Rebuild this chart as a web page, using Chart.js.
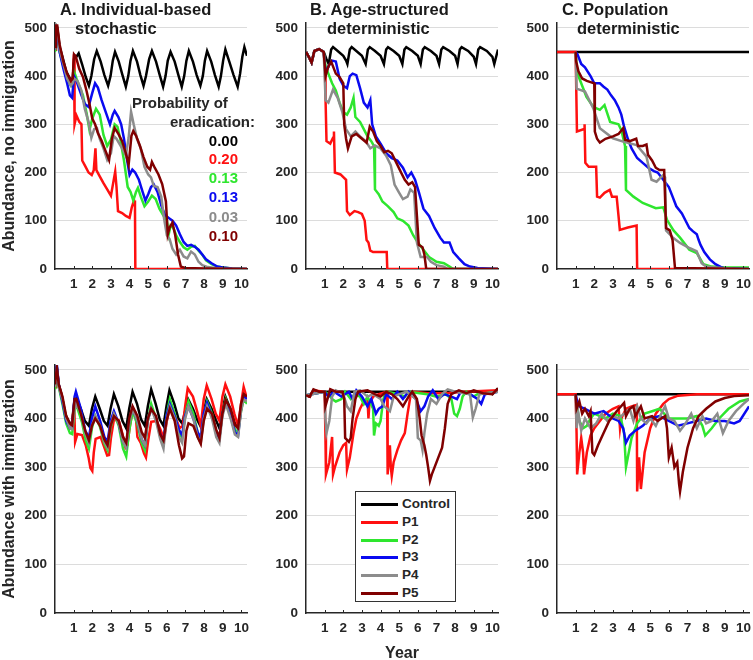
<!DOCTYPE html>
<html>
<head>
<meta charset="utf-8">
<script src="https://cdn.jsdelivr.net/npm/chart.js@4.4.0/dist/chart.umd.min.js"></script>
<style>
  body { margin: 0; background: #fff; }
  #fig { position: relative; width: 753px; height: 660px; overflow: hidden;
         font-family: 'Liberation Sans', Arial, sans-serif; font-weight: bold; color: #262626; }
  canvas { position: absolute; }
  .t { position: absolute; font-size: 16.5px; line-height: 19px; white-space: nowrap; color: #1a1a1a; }
  .pr { position: absolute; font-size: 15px; line-height: 18px; white-space: nowrap; }
  .num { position: absolute; right: 515px; font-size: 15px; line-height: 18px; }
  #legend { position: absolute; left: 355px; top: 491px; width: 99px; height: 109px;
            border: 1px solid #333; background: #fff; }
  .row { position: absolute; left: 0; height: 18px; width: 99px; font-size: 13.5px; line-height: 18px; }
  .row i { position: absolute; left: 5px; top: 8px; width: 37px; height: 3px; }
  .row span { position: absolute; left: 46px; top: 0; }
</style>
</head>
<body>
<div id="fig">
  <canvas id="tA"></canvas><canvas id="tB"></canvas><canvas id="tC"></canvas>
  <canvas id="bA"></canvas><canvas id="bB"></canvas><canvas id="bC"></canvas>

  <div class="t" style="left:60px;top:0px">A. Individual-based</div>
  <div class="t" style="left:75px;top:19px">stochastic</div>
  <div class="t" style="left:310px;top:0px">B. Age-structured</div>
  <div class="t" style="left:327px;top:19px">deterministic</div>
  <div class="t" style="left:562px;top:0px">C. Population</div>
  <div class="t" style="left:577px;top:19px">deterministic</div>

  <div class="pr" style="left:132px;top:94px">Probability of</div>
  <div class="pr" style="left:170px;top:113px">eradication:</div>
  <div id="probs"></div>

  <div id="legend"></div>
</div>

<script>
// axis ticks and labels
const xTicks = [1, 2, 3, 4, 5, 6, 7, 8, 9, 10];
const yTicks = [0, 100, 200, 300, 400, 500];
const seriesNames = ['Control', 'P1', 'P2', 'P3', 'P4', 'P5'];
const eradProb = ['0.00', '0.20', '0.13', '0.13', '0.03', '0.10'];
const seriesColors = ['#000000', '#ff1010', '#2ee62e', '#0a0af0', '#8c8c8c', '#800000'];

// ---- A. individual-based, no immigration: [year, abundance]
const topA_ctrl = [[0,455],[0.05,500],[0.12,500],[0.25,460],[0.4,440],[0.6,410],[0.8,395],[0.95,392],[1.02,435],[1.15,440],[1.27,447],[1.45,425],[1.65,398],[1.82,380],[1.95,400],[2.1,435],[2.24,452],[2.45,430],[2.65,402],[2.85,380],[2.98,400],[3.1,432],[3.22,450],[3.42,430],[3.62,402],[3.8,378],[3.93,400],[4.05,432],[4.18,452],[4.4,430],[4.58,402],[4.75,380],[4.88,400],[5.05,435],[5.2,452],[5.42,430],[5.62,402],[5.8,378],[5.93,400],[6.05,432],[6.2,450],[6.42,430],[6.62,402],[6.8,378],[6.93,400],[7.05,432],[7.18,452],[7.4,430],[7.6,402],[7.8,380],[7.93,400],[8.04,432],[8.16,452],[8.38,430],[8.58,402],[8.78,378],[8.9,400],[9.02,432],[9.14,455],[9.35,430],[9.58,402],[9.8,378],[9.93,405],[10.05,440],[10.16,460],[10.3,442]];
const topA_p1 = [[0,455],[0.05,495],[0.12,495],[0.25,455],[0.4,430],[0.6,400],[0.8,385],[0.95,385],[1.02,445],[1.05,300],[1.15,318],[1.3,305],[1.42,300],[1.46,225],[1.6,215],[1.8,200],[1.97,195],[2.08,205],[2.17,250],[2.22,205],[2.4,192],[2.6,178],[2.8,165],[3.0,152],[3.12,178],[3.23,202],[3.3,170],[3.38,120],[3.6,116],[3.8,110],[4.0,106],[4.12,128],[4.24,142],[4.29,130],[4.31,0],[10.3,0]];
const topA_p2 = [[0,450],[0.06,490],[0.12,485],[0.25,450],[0.45,420],[0.65,395],[0.85,380],[0.95,378],[1.02,410],[1.15,395],[1.3,380],[1.5,360],[1.7,322],[1.85,288],[2.0,312],[2.2,332],[2.4,320],[2.6,278],[2.8,255],[3.0,268],[3.2,300],[3.35,295],[3.5,270],[3.7,225],[3.9,170],[4.05,160],[4.2,142],[4.35,160],[4.45,168],[4.6,150],[4.8,130],[5.0,140],[5.2,152],[5.4,145],[5.6,125],[5.8,112],[6.0,100],[6.1,72],[6.2,90],[6.35,85],[6.5,70],[6.7,56],[6.9,45],[7.1,40],[7.3,46],[7.5,48],[7.7,38],[7.9,30],[8.1,18],[8.4,10],[8.7,5],[9.0,3],[9.5,1],[10.3,0]];
const topA_p3 = [[0,455],[0.06,495],[0.12,490],[0.25,450],[0.45,415],[0.65,385],[0.8,360],[0.92,355],[1.02,400],[1.15,390],[1.4,362],[1.6,342],[1.8,336],[2.0,365],[2.15,385],[2.3,376],[2.5,350],[2.75,322],[2.95,300],[3.1,320],[3.2,328],[3.4,315],[3.55,300],[3.7,270],[3.85,230],[4.0,195],[4.15,206],[4.3,200],[4.5,185],[4.7,160],[4.85,142],[5.0,155],[5.15,170],[5.3,175],[5.5,160],[5.7,132],[5.9,112],[6.1,106],[6.3,100],[6.5,90],[6.7,72],[6.9,56],[7.1,48],[7.3,50],[7.5,46],[7.7,40],[7.9,30],[8.1,20],[8.4,12],[8.7,5],[9.0,3],[9.5,1],[10.3,0]];
const topA_p4 = [[0,455],[0.06,505],[0.12,498],[0.25,455],[0.45,425],[0.65,395],[0.85,380],[0.95,385],[1.02,395],[1.2,390],[1.4,372],[1.6,332],[1.8,305],[1.95,272],[2.1,290],[2.25,292],[2.4,270],[2.6,250],[2.8,226],[3.0,240],[3.15,276],[3.3,270],[3.45,260],[3.6,250],[3.8,235],[3.95,272],[4.08,326],[4.22,300],[4.4,270],[4.6,250],[4.8,212],[5.0,196],[5.15,190],[5.3,172],[5.5,170],[5.7,150],[5.85,105],[6.0,70],[6.15,62],[6.3,42],[6.5,30],[6.7,40],[6.9,26],[7.1,22],[7.3,36],[7.5,30],[7.7,15],[7.9,8],[8.2,4],[8.6,2],[9.0,1],[10.3,0]];
const topA_p5 = [[0,460],[0.05,505],[0.12,505],[0.25,465],[0.45,430],[0.65,405],[0.85,390],[0.95,395],[1.02,445],[1.12,440],[1.3,415],[1.5,398],[1.7,368],[1.85,342],[2.0,312],[2.15,300],[2.3,282],[2.5,266],[2.7,246],[2.9,226],[3.05,270],[3.2,292],[3.4,280],[3.6,265],[3.8,240],[3.95,216],[4.1,276],[4.2,286],[4.35,276],[4.55,256],[4.75,232],[4.95,212],[5.1,206],[5.2,222],[5.35,210],[5.55,196],[5.75,176],[5.95,140],[6.05,72],[6.15,86],[6.3,96],[6.45,70],[6.6,30],[6.75,5],[7.0,2],[8.0,1],[10.3,0]];

// ---- B. age-structured, no immigration
const topB_ctrl = [[0,450],[0.15,440],[0.3,428],[0.45,452],[0.7,456],[0.95,450],[1.1,435],[1.22,425],[1.35,455],[1.45,460],[1.7,452],[2.0,442],[2.15,432],[2.22,425],[2.35,455],[2.45,460],[2.7,452],[3.0,442],[3.2,425],[3.32,455],[3.42,460],[3.7,452],[4.0,442],[4.18,425],[4.3,455],[4.4,460],[4.7,452],[5.0,442],[5.17,425],[5.28,455],[5.38,460],[5.7,452],[6.0,442],[6.15,425],[6.27,455],[6.37,460],[6.7,452],[7.0,442],[7.14,425],[7.26,455],[7.36,460],[7.7,452],[8.0,442],[8.13,425],[8.25,455],[8.35,460],[8.7,452],[9.0,440],[9.12,425],[9.24,455],[9.34,460],[9.7,452],[10.0,440],[10.1,425],[10.3,455]];
const topB_p1 = [[0,450],[0.15,440],[0.3,428],[0.45,452],[0.7,456],[0.95,450],[1.02,420],[1.05,350],[1.1,265],[1.3,260],[1.45,272],[1.5,285],[1.55,200],[1.85,196],[2.15,185],[2.2,120],[2.35,112],[2.6,120],[2.8,118],[3.0,114],[3.15,100],[3.25,60],[3.35,55],[3.45,38],[3.6,35],[4.0,35],[4.33,35],[4.36,0],[10.3,0]];
const topB_p2 = [[0,450],[0.15,440],[0.3,428],[0.45,452],[0.7,456],[0.95,450],[1.05,420],[1.2,405],[1.4,385],[1.6,370],[1.8,345],[2.0,325],[2.2,320],[2.4,335],[2.55,355],[2.65,315],[2.9,305],[3.1,290],[3.3,275],[3.5,265],[3.65,255],[3.7,165],[3.9,155],[4.1,140],[4.4,130],[4.7,118],[4.9,105],[5.2,100],[5.5,90],[5.75,70],[6.0,55],[6.3,40],[6.6,25],[7.0,15],[7.4,12],[7.7,5],[7.9,0],[10.3,0]];
const topB_p3 = [[0,450],[0.15,440],[0.3,428],[0.45,452],[0.7,456],[0.95,450],[1.05,405],[1.2,420],[1.4,432],[1.6,430],[1.8,395],[2.0,380],[2.2,375],[2.35,400],[2.5,405],[2.7,402],[2.9,375],[3.1,345],[3.3,335],[3.45,350],[3.55,300],[3.75,275],[4.0,260],[4.3,240],[4.6,230],[4.9,225],[5.2,210],[5.45,190],[5.65,200],[5.85,185],[6.05,160],[6.3,125],[6.6,110],[6.9,85],[7.2,65],[7.4,55],[7.7,55],[7.9,35],[8.2,22],[8.5,10],[8.8,5],[9.2,2],[10.3,0]];
const topB_p4 = [[0,450],[0.15,440],[0.3,428],[0.45,452],[0.7,456],[0.95,450],[1.05,350],[1.2,345],[1.45,372],[1.7,355],[1.95,325],[2.15,290],[2.4,275],[2.65,285],[2.9,275],[3.2,265],[3.45,250],[3.7,256],[4.0,250],[4.3,235],[4.55,215],[4.75,175],[5.0,158],[5.2,145],[5.45,150],[5.6,165],[5.8,158],[5.95,55],[6.15,25],[6.5,25],[6.7,15],[7.0,8],[7.4,5],[7.6,0],[10.3,0]];
const topB_p5 = [[0,450],[0.15,440],[0.3,428],[0.45,452],[0.7,456],[0.95,450],[1.05,400],[1.2,420],[1.35,430],[1.6,405],[1.8,398],[2.0,385],[2.05,300],[2.15,270],[2.25,250],[2.45,275],[2.7,280],[3.0,270],[3.25,262],[3.42,295],[3.6,285],[3.8,265],[4.0,255],[4.2,242],[4.4,245],[4.6,240],[4.85,220],[5.1,200],[5.3,185],[5.5,175],[5.7,180],[5.85,170],[5.95,110],[6.05,50],[6.25,45],[6.35,30],[6.45,0],[10.3,0]];

// ---- C. population deterministic, no immigration
const topC_ctrl = [[0,450],[10.3,450]];
const topC_p1 = [[0,450],[1.0,450],[1.07,285],[1.45,290],[1.48,300],[1.52,220],[1.7,212],[2.1,212],[2.15,150],[2.3,148],[2.55,158],[2.83,164],[2.95,150],[3.2,150],[3.3,110],[3.37,81],[3.8,86],[4.27,90],[4.3,0],[10.3,0]];
const topC_p2 = [[1.0,450],[1.05,420],[1.15,400],[1.35,380],[1.58,357],[1.95,336],[2.3,330],[2.55,340],[2.85,305],[3.3,300],[3.45,288],[3.65,255],[3.7,164],[4.1,150],[4.6,137],[5.3,126],[5.7,128],[5.9,102],[6.25,80],[6.6,65],[6.9,50],[7.1,40],[7.5,33],[7.85,10],[8.3,5],[9.0,3],[10.3,3]];
const topC_p3 = [[1.0,450],[1.1,445],[1.3,425],[1.5,418],[1.8,400],[2.0,385],[2.3,385],[2.5,378],[2.7,372],[2.9,360],[3.1,350],[3.3,335],[3.45,320],[3.6,295],[3.8,270],[4.0,250],[4.3,230],[4.6,220],[4.9,210],[5.2,203],[5.4,200],[5.6,190],[5.8,180],[6.0,170],[6.2,150],[6.4,130],[6.7,115],[6.9,100],[7.1,85],[7.3,78],[7.5,72],[7.6,60],[7.7,50],[7.9,35],[8.2,20],[8.5,10],[8.8,4],[9.0,1],[10.3,0]];
const topC_p4 = [[1.0,450],[1.05,374],[1.5,368],[1.95,333],[2.3,292],[3.0,271],[3.55,264],[4.27,257],[4.8,233],[5.07,185],[5.34,181],[5.7,195],[5.8,190],[5.85,80],[6.24,64],[6.6,54],[7.13,43],[7.49,37],[7.76,12],[8.0,5],[8.5,3],[9.5,0],[10.3,0]];
const topC_p5 = [[1.0,450],[1.03,430],[1.15,410],[1.35,395],[1.6,390],[2.0,385],[2.03,285],[2.15,270],[2.3,262],[2.6,270],[3.0,275],[3.3,280],[3.55,292],[3.65,268],[3.9,265],[4.25,270],[4.35,255],[4.6,255],[4.8,258],[4.88,237],[5.1,225],[5.3,210],[5.5,205],[5.75,205],[5.85,85],[6.05,80],[6.2,60],[6.33,2],[10.3,0]];

// ---- A. individual-based, with immigration
const botA_ctrl = [[0,465],[0.05,495],[0.1,505],[0.2,470],[0.35,450],[0.55,410],[0.75,392],[0.9,388],[1.05,440],[1.17,442],[1.4,418],[1.6,395],[1.82,385],[1.98,420],[2.16,445],[2.4,420],[2.62,395],[2.82,385],[2.98,420],[3.16,450],[3.4,425],[3.62,395],[3.82,380],[3.98,420],[4.16,455],[4.4,430],[4.62,398],[4.82,385],[4.98,425],[5.16,460],[5.4,430],[5.62,398],[5.82,385],[5.98,425],[6.14,458],[6.4,430],[6.62,400],[6.82,390],[6.98,415],[7.14,440],[7.4,420],[7.62,398],[7.82,383],[7.98,415],[8.14,440],[8.4,420],[8.62,398],[8.82,380],[8.98,415],[9.14,445],[9.4,420],[9.62,392],[9.82,380],[9.98,420],[10.12,452],[10.3,445]];
const botA_p1 = [[0,465],[0.05,495],[0.1,500],[0.2,468],[0.35,448],[0.55,408],[0.75,388],[0.9,385],[1.03,430],[1.08,352],[1.2,368],[1.45,366],[1.65,345],[1.8,320],[1.9,298],[2.0,292],[2.08,330],[2.18,358],[2.45,362],[2.65,340],[2.8,324],[2.9,325],[3.0,360],[3.16,398],[3.42,396],[3.62,368],[3.78,340],[3.88,345],[4.02,385],[4.16,415],[4.32,412],[4.42,362],[4.6,350],[4.78,328],[4.88,320],[5.0,355],[5.16,393],[5.45,395],[5.65,378],[5.85,358],[6.0,395],[6.16,425],[6.45,405],[6.68,380],[6.85,385],[7.0,430],[7.12,462],[7.4,445],[7.62,415],[7.82,385],[7.98,440],[8.14,468],[8.4,440],[8.62,410],[8.82,395],[8.98,445],[9.14,470],[9.4,445],[9.62,410],[9.82,385],[9.98,430],[10.12,465],[10.3,440]];
const botA_p2 = [[0,460],[0.1,500],[0.2,465],[0.4,430],[0.6,390],[0.8,370],[0.92,368],[1.05,420],[1.17,425],[1.45,392],[1.65,355],[1.82,338],[1.98,380],[2.16,405],[2.42,382],[2.65,348],[2.82,335],[2.98,380],[3.16,410],[3.42,385],[3.65,338],[3.82,322],[3.98,375],[4.16,415],[4.42,388],[4.65,350],[4.82,335],[4.98,395],[5.16,430],[5.42,400],[5.65,362],[5.82,350],[5.98,405],[6.16,440],[6.42,410],[6.65,372],[6.82,360],[6.98,405],[7.16,435],[7.42,410],[7.65,372],[7.82,355],[7.98,405],[8.16,435],[8.42,410],[8.65,372],[8.82,360],[8.98,410],[9.16,440],[9.42,410],[9.65,378],[9.82,370],[9.98,415],[10.12,440],[10.3,430]];
const botA_p3 = [[0,470],[0.1,510],[0.2,470],[0.4,435],[0.6,395],[0.8,380],[0.92,380],[1.05,445],[1.12,455],[1.4,418],[1.62,375],[1.82,360],[1.98,400],[2.16,425],[2.42,395],[2.65,362],[2.82,352],[2.98,395],[3.16,415],[3.42,390],[3.65,352],[3.82,342],[3.98,395],[4.16,420],[4.42,395],[4.65,357],[4.82,345],[4.98,398],[5.16,420],[5.42,400],[5.65,367],[5.82,355],[5.98,405],[6.16,430],[6.42,405],[6.65,377],[6.82,365],[6.98,405],[7.16,425],[7.42,400],[7.65,372],[7.82,360],[7.98,410],[8.16,432],[8.42,405],[8.65,372],[8.82,360],[8.98,410],[9.16,435],[9.42,405],[9.65,372],[9.82,365],[9.98,420],[10.12,445],[10.3,440]];
const botA_p4 = [[0,465],[0.1,500],[0.2,465],[0.4,440],[0.6,400],[0.8,380],[0.92,378],[1.05,420],[1.15,430],[1.4,408],[1.62,370],[1.82,350],[1.98,385],[2.16,405],[2.42,385],[2.65,352],[2.82,340],[2.98,385],[3.16,410],[3.42,390],[3.65,352],[3.82,340],[3.98,390],[4.16,420],[4.42,395],[4.65,357],[4.82,345],[4.98,395],[5.16,420],[5.42,395],[5.65,357],[5.82,338],[5.98,395],[6.16,425],[6.42,400],[6.65,362],[6.82,350],[6.98,400],[7.16,425],[7.42,400],[7.65,362],[7.82,350],[7.98,400],[8.16,425],[8.42,400],[8.65,362],[8.82,350],[8.98,405],[9.16,430],[9.42,400],[9.65,367],[9.82,362],[9.98,415],[10.12,440],[10.3,435]];
const botA_p5 = [[0,470],[0.1,505],[0.2,470],[0.4,445],[0.6,405],[0.8,390],[0.92,386],[1.05,440],[1.15,440],[1.4,408],[1.62,375],[1.82,355],[1.98,385],[2.16,400],[2.42,385],[2.65,357],[2.82,345],[2.98,385],[3.16,405],[3.42,395],[3.65,362],[3.82,350],[3.98,400],[4.16,425],[4.42,405],[4.65,372],[4.82,360],[4.98,400],[5.16,420],[5.42,405],[5.65,367],[5.82,355],[5.98,395],[6.16,420],[6.42,395],[6.65,345],[6.82,318],[6.92,322],[7.05,375],[7.16,390],[7.42,385],[7.65,362],[7.82,348],[7.98,395],[8.16,420],[8.42,410],[8.65,377],[8.82,360],[8.98,410],[9.16,438],[9.42,420],[9.65,387],[9.82,380],[9.98,430],[10.12,450],[10.3,445]];

// ---- B. age-structured, with immigration
const botB_ctrl = [[0,448],[0.2,445],[0.4,458],[0.7,455],[1.0,455],[2.0,455],[3.0,455],[4.0,455],[5.0,455],[6.0,455],[7.0,455],[8.0,455],[9.0,455],[9.8,455],[10.0,450],[10.3,462]];
const botB_p1 = [[0,448],[0.2,445],[0.4,458],[1.0,455],[1.04,370],[1.07,285],[1.25,310],[1.4,362],[1.45,285],[1.55,300],[1.8,330],[2.0,345],[2.15,350],[2.2,295],[2.35,320],[2.55,370],[2.7,400],[2.9,420],[3.1,435],[3.3,440],[3.35,400],[3.4,430],[3.6,445],[3.9,450],[4.35,455],[4.38,285],[4.5,345],[4.55,300],[4.6,282],[4.7,310],[4.9,335],[5.1,355],[5.3,370],[5.45,410],[5.6,445],[5.8,455],[6.5,452],[7.5,452],[8.5,455],[10.3,458]];
const botB_p2 = [[0,448],[1.0,455],[1.2,450],[1.4,440],[1.6,435],[1.9,440],[2.1,455],[2.4,440],[2.6,450],[2.9,445],[3.1,430],[3.3,445],[3.6,420],[3.65,365],[3.75,390],[3.9,385],[4.0,395],[4.15,440],[4.3,455],[5.0,450],[5.3,445],[5.5,455],[6.5,450],[7.0,445],[7.5,450],[7.8,440],[7.95,410],[8.1,405],[8.25,420],[8.4,445],[8.6,455],[9.0,445],[9.2,450],[10.3,455]];
const botB_p3 = [[0,448],[1.0,455],[1.2,445],[1.5,455],[1.9,445],[2.3,455],[2.5,440],[2.7,458],[3.0,445],[3.3,425],[3.5,440],[3.75,410],[3.9,420],[4.1,425],[4.3,450],[4.6,440],[4.9,455],[5.2,440],[5.5,455],[5.9,440],[6.15,415],[6.35,425],[6.55,445],[6.8,458],[7.1,440],[7.4,450],[7.8,445],[8.1,440],[8.3,455],[8.8,450],[9.2,440],[9.4,430],[9.6,450],[10.3,455]];
const botB_p4 = [[0,448],[1.0,455],[1.04,400],[1.1,370],[1.25,395],[1.4,445],[1.6,458],[2.0,450],[2.2,425],[2.4,415],[2.6,455],[2.9,458],[3.3,445],[3.6,450],[4.0,440],[4.2,425],[4.5,415],[4.7,445],[5.0,450],[5.4,455],[5.9,440],[6.0,360],[6.15,355],[6.25,335],[6.35,370],[6.5,410],[6.7,440],[7.0,430],[7.3,450],[7.6,460],[8.0,455],[8.8,450],[8.95,402],[9.1,420],[9.3,450],[10.3,455]];
const botB_p5 = [[0,448],[0.2,445],[0.4,460],[0.7,455],[1.0,455],[1.04,425],[1.15,440],[1.3,460],[1.6,455],[1.95,455],[2.05,440],[2.1,360],[2.3,352],[2.4,360],[2.5,400],[2.65,440],[2.8,455],[3.3,458],[3.7,450],[4.0,445],[4.3,455],[4.6,450],[4.9,440],[5.2,425],[5.5,445],[5.7,455],[5.95,440],[6.1,400],[6.2,365],[6.35,345],[6.45,325],[6.55,300],[6.65,272],[6.75,285],[6.9,300],[7.1,320],[7.3,340],[7.45,380],[7.6,430],[7.8,450],[8.2,458],[8.6,452],[9.0,458],[9.5,452],[10.0,450],[10.3,462]];

// ---- C. population deterministic, with immigration
const botC_ctrl = [[0,450],[10.3,450]];
const botC_p1 = [[0,450],[1.0,450],[1.05,370],[1.08,285],[1.2,330],[1.3,360],[1.4,330],[1.45,285],[1.6,330],[1.8,365],[2.0,380],[2.3,395],[2.6,410],[3.0,420],[3.3,425],[3.38,380],[3.45,400],[3.7,420],[4.0,425],[4.28,428],[4.3,250],[4.4,320],[4.5,255],[4.7,330],[5.0,380],[5.3,410],[5.7,430],[6.0,440],[6.5,447],[7.5,450],[10.3,450]];
const botC_p2 = [[1.0,450],[1.05,430],[1.2,395],[1.4,380],[1.6,385],[1.8,400],[2.0,410],[2.3,405],[2.6,400],[3.0,410],[3.4,405],[3.6,370],[3.7,300],[4.0,360],[4.3,390],[4.7,410],[5.1,415],[5.5,420],[6.0,400],[6.5,400],[7.0,400],[7.5,405],[7.8,385],[7.95,365],[8.3,380],[8.7,400],[9.2,420],[9.8,435],[10.3,440]];
const botC_p3 = [[1.0,450],[1.05,440],[1.2,425],[1.5,420],[2.0,410],[2.5,415],[3.0,400],[3.3,395],[3.55,380],[3.7,350],[3.9,365],[4.2,375],[4.6,385],[5.0,400],[5.5,405],[6.0,395],[6.5,385],[7.0,390],[7.5,395],[8.0,400],[8.5,395],[9.0,395],[9.5,390],[9.8,395],[10.3,425]];
const botC_p4 = [[1.0,450],[1.05,380],[1.15,410],[1.3,375],[1.5,400],[1.8,380],[2.1,390],[2.4,410],[2.7,395],[3.0,405],[3.3,400],[3.6,410],[3.9,420],[4.1,395],[4.3,425],[4.5,400],[4.8,390],[5.0,400],[5.3,385],[5.6,410],[5.8,425],[6.0,400],[6.3,395],[6.6,375],[6.9,390],[7.2,410],[7.5,380],[7.8,405],[8.0,390],[8.3,395],[8.6,410],[8.9,370],[9.2,395],[9.6,415],[10.0,430],[10.3,440]];
const botC_p5 = [[1.0,450],[1.05,420],[1.2,435],[1.35,410],[1.5,420],[1.7,405],[1.8,415],[1.9,330],[2.0,325],[2.2,345],[2.5,370],[2.8,395],[3.2,415],[3.6,432],[3.7,405],[3.9,420],[4.1,425],[4.2,405],[4.5,425],[4.7,400],[5.1,405],[5.4,395],[5.8,405],[5.9,380],[6.0,320],[6.15,340],[6.3,300],[6.45,310],[6.55,265],[6.6,250],[6.75,290],[7.0,340],[7.3,380],[7.6,405],[8.0,420],[8.5,435],[9.0,442],[9.5,446],[10.3,448]];

const TXT = '#262626';
const FONT = "'Liberation Sans', Arial, sans-serif";

// short tick marks pointing into the plot, at each year
const innerTicks = {
  id: 'innerTicks',
  afterDraw(chart) {
    const sx = chart.scales.x, ctx = chart.ctx, b = chart.chartArea.bottom;
    ctx.save();
    ctx.strokeStyle = TXT;
    ctx.lineWidth = 1;
    xTicks.forEach(v => {
      const px = Math.round(sx.getPixelForValue(v)) + 0.5;
      ctx.beginPath();
      ctx.moveTo(px, b);
      ctx.lineTo(px, b - 3);
      ctx.stroke();
    });
    ctx.restore();
  }
};

function makePanel(id, box, series, yTitle, xTitle) {
  const cv = document.getElementById(id);
  const yw = yTitle ? 55 : 50;
  const padTop = 12, padRight = box.padRight, xh = xTitle ? 50 : 30;
  const w = yw + 192 + padRight;
  const h = padTop + (box.bottom - box.top) + xh;
  cv.width = w; cv.height = h;
  cv.style.left = (box.left - yw) + 'px';
  cv.style.top = (box.top - padTop) + 'px';

  new Chart(cv, {
    type: 'line',
    data: {
      datasets: series.map((s, i) => ({
        label: seriesNames[i],
        data: s.map(p => ({ x: p[0], y: p[1] })),
        borderColor: seriesColors[i],
        borderWidth: 2.5,
        pointRadius: 0,
        tension: 0,
        order: series.length - 1 - i
      }))
    },
    options: {
      responsive: false,
      animation: false,
      devicePixelRatio: 1,
      layout: { padding: { top: padTop, right: padRight, left: 0, bottom: 0 } },
      plugins: { legend: { display: false }, tooltip: { enabled: false } },
      scales: {
        x: {
          type: 'linear', min: 0, max: 10.3,
          afterBuildTicks: s => { s.ticks = xTicks.map(v => ({ value: v })); },
          afterFit: s => { s.height = xh; s.paddingLeft = 0; s.paddingRight = 0; },
          grid: { display: false, drawTicks: false },
          border: { display: true, color: TXT, width: 1.5 },
          ticks: { padding: 7, color: TXT, autoSkip: false, maxRotation: 0,
                   font: { family: FONT, size: 13.5, weight: 'bold' } },
          title: { display: !!xTitle, text: xTitle || '', color: TXT, padding: 0,
                   font: { family: FONT, size: 16, weight: 'bold' } }
        },
        y: {
          min: 0, max: 510,
          afterBuildTicks: s => { s.ticks = yTicks.map(v => ({ value: v })); },
          afterFit: s => { s.width = yw; s.paddingTop = 0; s.paddingBottom = 0; },
          grid: { drawTicks: false, lineWidth: 1,
                  color: c => (c.tick && c.tick.value === 0) ? 'rgba(0,0,0,0)' : '#dcdcdc' },
          border: { display: true, color: TXT, width: 1.5 },
          ticks: { padding: 8, color: TXT,
                   font: { family: FONT, size: 13.5, weight: 'bold' } },
          title: { display: !!yTitle, text: yTitle || '', color: TXT, padding: 0,
                   font: { family: FONT, size: 16, weight: 'bold' } }
        }
      }
    },
    plugins: [innerTicks]
  });
}

const topRow = { top: 23, bottom: 269 };
const botRow = { top: 365, bottom: 613 };

makePanel('tA', { left: 55, padRight: 12, ...topRow },
  [topA_ctrl, topA_p1, topA_p2, topA_p3, topA_p4, topA_p5], 'Abundance, no immigration');
makePanel('tB', { left: 306, padRight: 12, ...topRow },
  [topB_ctrl, topB_p1, topB_p2, topB_p3, topB_p4, topB_p5]);
makePanel('tC', { left: 557, padRight: 4, ...topRow },
  [topC_ctrl, topC_p1, topC_p2, topC_p3, topC_p4, topC_p5]);
makePanel('bA', { left: 55, padRight: 12, ...botRow },
  [botA_ctrl, botA_p1, botA_p2, botA_p3, botA_p4, botA_p5], 'Abundance with immigration');
makePanel('bB', { left: 306, padRight: 12, ...botRow },
  [botB_ctrl, botB_p1, botB_p2, botB_p3, botB_p4, botB_p5], null, 'Year');
makePanel('bC', { left: 557, padRight: 4, ...botRow },
  [botC_ctrl, botC_p1, botC_p2, botC_p3, botC_p4, botC_p5]);

// probability of eradication, coloured per series
const probTops = [132, 150, 169, 188, 208, 227];
const probBox = document.getElementById('probs');
eradProb.forEach((p, i) => {
  const d = document.createElement('div');
  d.className = 'num';
  d.style.top = probTops[i] + 'px';
  d.style.color = seriesColors[i];
  d.textContent = p;
  probBox.appendChild(d);
});

// legend box
const leg = document.getElementById('legend');
seriesNames.forEach((n, i) => {
  const r = document.createElement('div');
  r.className = 'row';
  r.style.top = (3 + i * 17.8) + 'px';
  r.innerHTML = '<i style="background:' + seriesColors[i] + '"></i><span>' + n + '</span>';
  leg.appendChild(r);
});
</script>
</body>
</html>
